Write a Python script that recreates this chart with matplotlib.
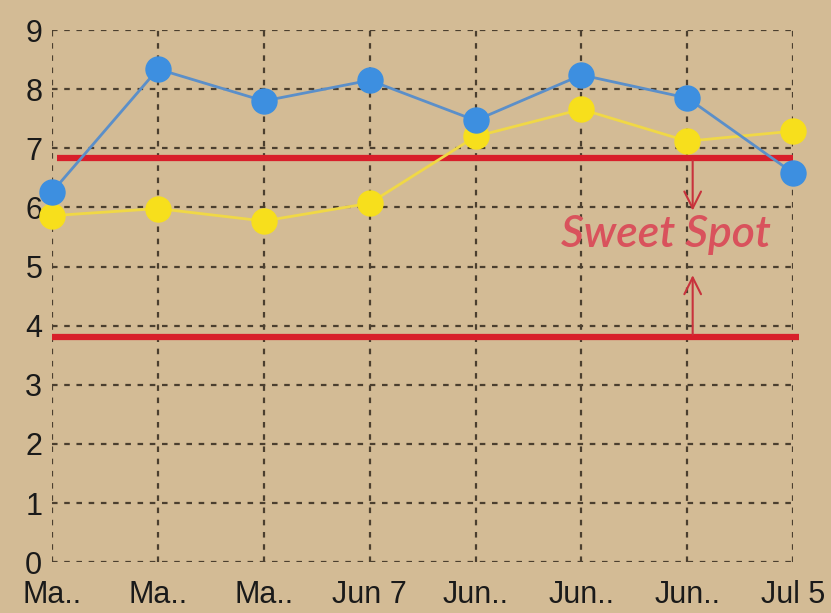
import numpy as np
import matplotlib.pyplot as plt

# chart data
labels = ["Ma..", "Ma..", "Ma..", "Jun 7", "Jun..", "Jun..", "Jun..", "Jul 5"]
blue_vals = [6.26, 8.34, 7.80, 8.15, 7.47, 8.24, 7.85, 6.58]
yellow_vals = [5.86, 5.98, 5.77, 6.07, 7.20, 7.66, 7.12, 7.29]
upper_limit = 6.84
lower_limit = 3.80
yticks = list(range(0, 10))

BG = "#d3bb95"
GRID = "#4b3f2f"
RED = "#d81f2a"

plt.rcParams['font.family'] = ['Liberation Sans', 'DejaVu Sans']

fig = plt.figure(figsize=(8.31, 6.13), dpi=100)
fig.patch.set_facecolor(BG)
ax = fig.add_axes([0.0626, 0.083, 0.892, 0.868])
ax.set_facecolor(BG)

x = np.arange(len(labels))

# grid
ax.set_xticks(x)
ax.set_xticklabels(labels)
ax.set_yticks(yticks)
ax.set_xlim(0, len(labels) - 1)
ax.set_ylim(0, 9)
ax.grid(True, color=GRID, linestyle=(0, (2.5, 3)), linewidth=1.6)
for s in ax.spines.values():
    s.set_visible(False)
ax.tick_params(length=0, labelsize=22, colors="#1a1a1a")
ax.tick_params(axis='x', pad=13)
ax.tick_params(axis='y', pad=7)
ax.set_axisbelow(True)

# sweet spot bounds
ax.hlines(upper_limit, 0.05, 7.0, color=RED, linewidth=4.5, zorder=2, clip_on=False)
ax.hlines(lower_limit, 0.0, 7.05, color=RED, linewidth=4.5, zorder=2, clip_on=False)

# series
ax.plot(x, blue_vals, color="#5b8fc9", linewidth=2, marker='o', markersize=18,
        markerfacecolor="#3d8fe0", markeredgecolor="#3d8fe0", zorder=4, clip_on=False)
ax.plot(x, yellow_vals, color="#f0d846", linewidth=2, marker='o', markersize=18,
        markerfacecolor="#f7df1c", markeredgecolor="#f7df1c", zorder=3, clip_on=False)

# arrows and label
ax.annotate("", xy=(6.05, 5.9), xytext=(6.05, upper_limit),
            arrowprops=dict(arrowstyle='->', color="#c8323c", lw=1.5,
                            mutation_scale=30))
ax.annotate("", xy=(6.05, 4.9), xytext=(6.05, lower_limit),
            arrowprops=dict(arrowstyle='->', color="#c8323c", lw=1.5,
                            mutation_scale=30))
ax.text(5.8, 5.55, "Sweet Spot", color="#d9525c", fontsize=32,
        fontstyle='italic', fontweight='semibold', family=['Lato', 'DejaVu Sans'],
        ha='center', va='center', zorder=5)

fig.savefig("out.png", dpi=100, facecolor=BG)
